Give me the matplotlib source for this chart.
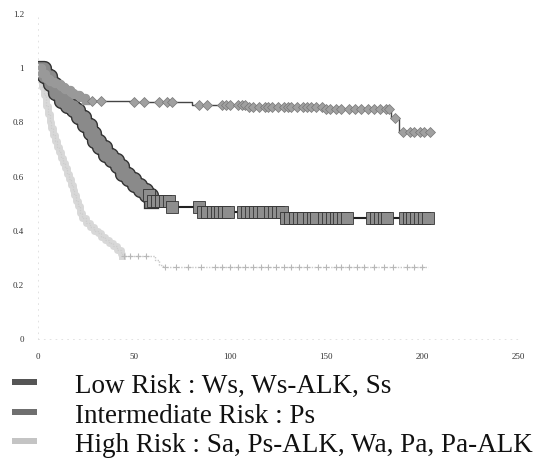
import numpy as np
import matplotlib
matplotlib.use("Agg")
import matplotlib.pyplot as plt
import matplotlib.patheffects as pe
from matplotlib.patches import Rectangle

# survival curves (time, survival)
low_t = [0, 2, 4, 6, 9, 12, 14, 17, 19, 22, 25, 50, 80, 110, 150, 184, 188, 205]
low_s = [1.0, 0.98, 0.96, 0.95, 0.94, 0.93, 0.92, 0.91, 0.90, 0.89, 0.88, 0.875, 0.865, 0.855, 0.85, 0.815, 0.765, 0.765]
low_cens = [28, 33, 50, 55, 63, 67, 70, 84, 88, 96, 98, 100, 104, 106, 108, 110, 112, 115,
            118, 120, 122, 125, 128, 130, 132, 135, 138, 140, 142, 145, 148, 150, 152, 155,
            158, 162, 165, 168, 172, 175, 178, 181, 183, 186, 190, 194, 196, 199, 201, 204]

mid_t = [0, 3, 6, 9, 12, 15, 18, 21, 24, 27, 29, 32, 35, 38, 41, 44, 47, 50, 53, 56, 59, 70, 86, 128, 204]
mid_s = [1.0, 0.97, 0.94, 0.91, 0.88, 0.86, 0.845, 0.82, 0.79, 0.76, 0.73, 0.71, 0.68, 0.66, 0.64,
         0.61, 0.59, 0.57, 0.55, 0.53, 0.51, 0.487, 0.469, 0.446, 0.446]
mid_cens = [58, 60, 62, 64, 66, 68, 70, 84, 86, 88, 91, 93, 95, 97, 99, 107, 109, 111, 113, 115,
            117, 121, 123, 125, 127, 129, 131, 134, 136, 138, 141, 143, 145, 149, 151, 153, 155,
            157, 159, 161, 174, 176, 178, 180, 182, 191, 193, 195, 197, 199, 201, 203]

high_t = [0, 1, 2, 3, 4, 5, 6, 7, 8, 9, 10, 11, 12, 13, 14, 15, 16, 17, 18, 19, 20, 21, 22, 23,
          25, 27, 29, 31, 33, 35, 37, 39, 41, 43, 44, 61, 63, 65, 203]
high_s = [1.0, 0.97, 0.93, 0.90, 0.86, 0.83, 0.80, 0.78, 0.755, 0.73, 0.71, 0.69, 0.67, 0.65,
          0.63, 0.61, 0.59, 0.57, 0.55, 0.53, 0.51, 0.49, 0.465, 0.445, 0.43, 0.415, 0.40, 0.39,
          0.378, 0.365, 0.355, 0.342, 0.328, 0.315, 0.306, 0.29, 0.275, 0.266, 0.266]
high_cens = [45, 48, 52, 56, 66, 72, 78, 85, 92, 96, 100, 104, 108, 112, 116, 120, 124, 128, 132,
             136, 140, 146, 150, 155, 158, 162, 166, 170, 175, 180, 185, 192, 196, 200]

x_ticks = [0, 50, 100, 150, 200, 250]
y_ticks = [0, 0.2, 0.4, 0.6, 0.8, 1.0, 1.2]
y_labels = ["0", "0.2", "0.4", "0.6", "0.8", "1", "1.2"]
labels = ["Low Risk : Ws, Ws-ALK, Ss",
          "Intermediate Risk : Ps",
          "High Risk : Sa, Ps-ALK, Wa, Pa, Pa-ALK"]


def step_at(t, s, x):
    # value of the right-continuous step function at x
    idx = np.searchsorted(t, x, side="right") - 1
    return np.asarray(s)[idx]


fig = plt.figure(figsize=(5.42, 4.69), dpi=100)
ax = fig.add_axes([38 / 542, 130 / 469, 480 / 542, 325 / 469])

# high risk: light dotted band
ax.step(high_t, high_s, where="post", color="#c8c8c8", lw=1.0, ls=(0, (1, 1)))
early = np.array(high_t) <= 44
ax.step(np.array(high_t)[early], np.array(high_s)[early], where="post",
        color="#cfcfcf", lw=5, alpha=0.8)
ax.plot(high_cens, step_at(high_t, high_s, high_cens), ls="none", marker="+",
        ms=5, mew=0.8, color="#b8b8b8")

# intermediate risk: thick blocks
ax.step(mid_t, mid_s, where="post", color="#222222", lw=1.5)
early = np.array(mid_t) <= 59
ax.step(np.array(mid_t)[early], np.array(mid_s)[early], where="post",
        color="#8a8a8a", lw=9,
        path_effects=[pe.Stroke(linewidth=11, foreground="#333333"), pe.Normal()])
ax.plot(mid_cens, step_at(mid_t, mid_s, mid_cens), ls="none", marker="s",
        ms=9, mfc="#8e8e8e", mec="#333333", mew=0.6)

# low risk: thin line with diamond censor marks
ax.step(low_t, low_s, where="post", color="#444444", lw=1.0)
early = np.array(low_t) <= 25
ax.step(np.array(low_t)[early], np.array(low_s)[early], where="post",
        color="#999999", lw=6)
ax.plot(low_cens, step_at(low_t, low_s, low_cens), ls="none", marker="D",
        ms=5, mfc="#a0a0a0", mec="#777777", mew=0.5)

ax.set_xlim(0, 250)
ax.set_ylim(0, 1.2)
ax.set_xticks(x_ticks)
ax.set_xticklabels([str(v) for v in x_ticks])
ax.set_yticks(y_ticks)
ax.set_yticklabels(y_labels)
ax.tick_params(length=0, labelsize=6.5, colors="#333333", pad=10)
for lab in ax.get_xticklabels() + ax.get_yticklabels():
    lab.set_family("Liberation Serif")
for side in ["top", "right"]:
    ax.spines[side].set_visible(False)
for side in ["left", "bottom"]:
    ax.spines[side].set_color("#dddddd")
    ax.spines[side].set_linewidth(0.6)
    ax.spines[side].set_linestyle((0, (1, 6)))

# legend drawn by hand below the axes
sw_colors = ["#555555", "#6f6f6f", "#c4c4c4"]
base_y = [393, 423, 452]
for lab, col, by in zip(labels, sw_colors, base_y):
    fig.text(75 / 542, 1 - by / 469, lab, family="Liberation Serif", fontsize=19.5,
             va="baseline", ha="left", color="#111111")
    fig.add_artist(Rectangle((12 / 542, 1 - (by - 8) / 469), 25 / 542, 6 / 469,
                             transform=fig.transFigure, facecolor=col,
                             edgecolor="none"))

fig.savefig("out.png", dpi=100)
